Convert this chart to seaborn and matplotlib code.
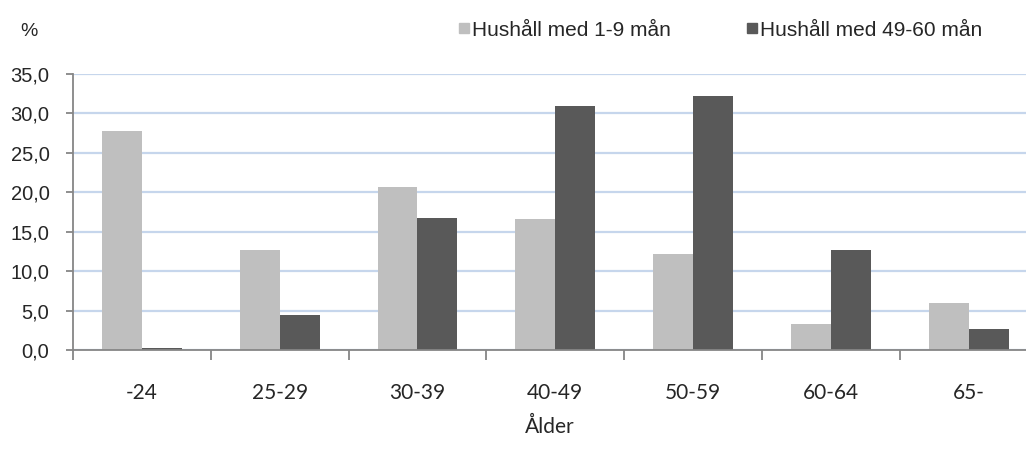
import numpy as np
import pandas as pd
import matplotlib
matplotlib.use("Agg")
import matplotlib.pyplot as plt
from matplotlib.lines import Line2D
import seaborn as sns

# === DATA ===
age_groups = ["-24", "25-29", "30-39", "40-49", "50-59", "60-64", "65-"]
series_names = ["Hushåll med 1-9 mån", "Hushåll med 49-60 mån"]
short_hh = [27.8, 12.7, 20.7, 16.6, 12.2, 3.3, 6.0]
long_hh = [0.3, 4.4, 16.8, 31.0, 32.2, 12.7, 2.6]
y_ticks = [0, 5, 10, 15, 20, 25, 30, 35]

colors = ["#bfbfbf", "#595959"]
grid_color = "#c6d6ec"
axis_color = "#868686"

df = pd.DataFrame({
    "Ålder": age_groups * 2,
    "Andel": short_hh + long_hh,
    "Serie": [series_names[0]] * len(age_groups) + [series_names[1]] * len(age_groups),
})

sns.set_style("white")
plt.rcParams["font.family"] = ["Liberation Sans", "DejaVu Sans"]

fig = plt.figure(figsize=(10.26, 4.62), dpi=100)
ax = fig.add_axes([73 / 1026, 112 / 462, 953 / 1026, 276 / 462])

sns.barplot(data=df, x="Ålder", y="Andel", hue="Serie", order=age_groups,
            hue_order=series_names, palette=colors, saturation=1,
            width=0.58, gap=0, legend=False, ax=ax, zorder=3,
            linewidth=0, edgecolor="none")

ax.set_xlim(-0.5, -0.5 + 953 / 137.8)
ax.set_ylim(0, 35)
ax.set_yticks(y_ticks)
ax.set_yticklabels([f"{v:.1f}".replace(".", ",") for v in y_ticks], fontsize=14.5)
ax.yaxis.grid(True, color=grid_color, linewidth=1.6, zorder=0)
ax.set_axisbelow(True)

# category labels on centres, tick marks on boundaries
ax.set_xticks(range(len(age_groups)))
ax.set_xticklabels(age_groups, fontsize=15, family=["Lato", "DejaVu Sans"])
ax.set_xticks(np.arange(-0.5, len(age_groups) - 0.5), minor=True)
ax.tick_params(axis="x", which="major", length=0, pad=24)
ax.tick_params(axis="x", which="minor", length=7, width=1.3, color=axis_color,
               direction="out", bottom=True)
ax.tick_params(axis="y", which="major", length=5, width=1.3, color=axis_color,
               direction="out", left=True, pad=12)

for side in ["top", "right"]:
    ax.spines[side].set_visible(False)
for side in ["left", "bottom"]:
    ax.spines[side].set_color(axis_color)
    ax.spines[side].set_linewidth(1.3)
    ax.spines[side].set_zorder(4)

ax.set_ylabel("")
ax.set_xlabel("Ålder", fontsize=15, family=["Lato", "DejaVu Sans"], labelpad=10)

fig.text(29 / 1026, 1 - 31 / 462, "%", fontsize=14, ha="center", va="center")

handles = [Line2D([0], [0], marker="s", linestyle="", markersize=7.5,
                  markerfacecolor=c, markeredgecolor=c) for c in colors]
fig.legend(handles, series_names, loc="center", bbox_to_anchor=(719 / 1026, 1 - 30 / 462),
           ncol=2, frameon=False, fontsize=15, handletextpad=0.0,
           columnspacing=3.5, handlelength=0.8)

fig.savefig("out.png", dpi=100)
